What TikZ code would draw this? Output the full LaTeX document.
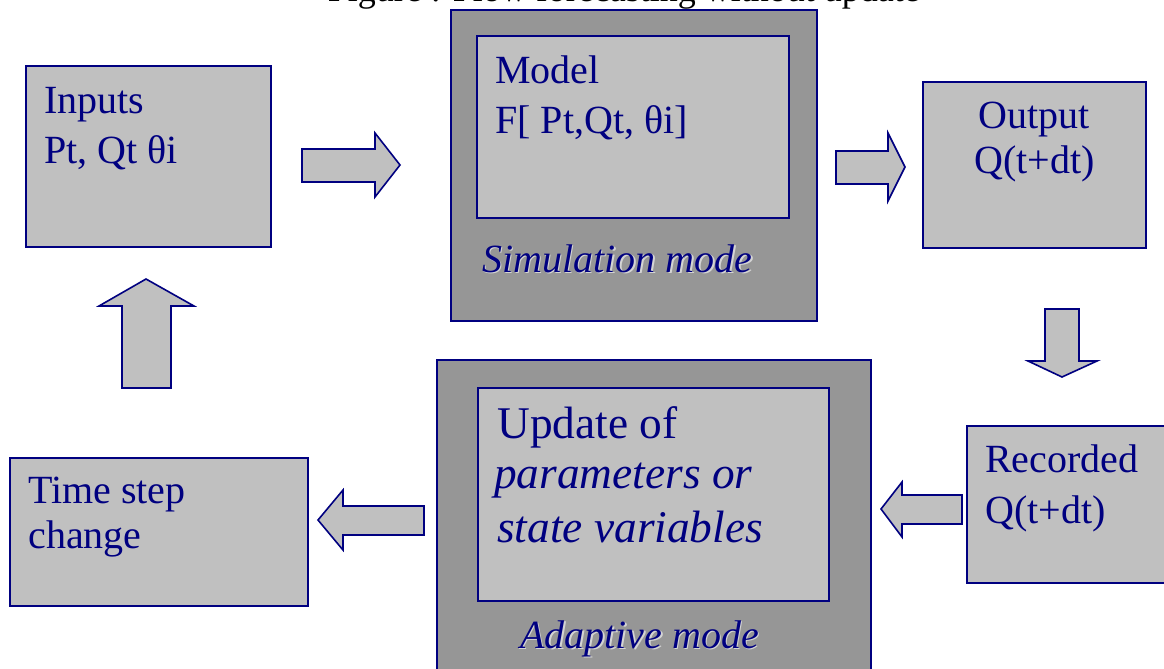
\documentclass[tikz,border=0pt]{standalone}
\usepackage{fontspec}
\setmainfont{Liberation Serif}
\usetikzlibrary{fit}
\definecolor{navyc}{HTML}{000080}
\definecolor{lightbox}{HTML}{C0C0C0}
\definecolor{darkbox}{HTML}{969696}
\definecolor{shadowc}{HTML}{D4D4D4}
\tikzset{
  box/.style={draw=navyc, fill=lightbox, line width=1.2pt, inner sep=0pt},
  outerbox/.style={draw=navyc, fill=darkbox, line width=1.2pt, inner sep=0pt},
  barrow/.style={draw=navyc, fill=lightbox, line width=1.2pt, line join=miter},
  txt/.style={anchor=base west, inner sep=0pt, text=navyc, font=\fontsize{30}{36}\selectfont},
  bigtxt/.style={anchor=base west, inner sep=0pt, text=navyc, font=\fontsize{34}{40}\selectfont},
  bigital/.style={anchor=base west, inner sep=0pt, text=navyc, font=\fontsize{34}{40}\selectfont\itshape},
  ctxt/.style={anchor=base, inner sep=0pt, text=navyc, font=\fontsize{30}{36}\selectfont},
  modetxt/.style={anchor=base west, inner sep=0pt, text=navyc, font=\fontsize{30}{36}\selectfont\itshape},
  modeshadow/.style={anchor=base west, inner sep=0pt, text=shadowc, font=\fontsize{30}{36}\selectfont\itshape},
  titletxt/.style={anchor=base east, inner sep=0pt, text=black, font=\fontsize{27}{32}\selectfont}
}
\begin{document}
\begin{tikzpicture}[x=0.75pt, y=-0.75pt]
\useasboundingbox (0,0) rectangle (1164,668);
\fill[white] (0,0) rectangle (1164,668);

% title (cut off at the top, as in the reference)
\node[titletxt] (title) at (920,1) {Figure : Flow forecasting without update};

% boxes
\node[box, fit={(26,66) (271,247)}] (inputs) {};
\node[outerbox, fit={(451,10) (817,321)}] (simouter) {};
\node[box, fit={(477,36) (789,218)}] (model) {};
\node[box, fit={(923,82) (1146,248)}] (output) {};
\node[box, fit={(967,426) (1172,583)}] (recorded) {};
\node[outerbox, fit={(437,360) (871,700)}] (adaptouter) {};
\node[box, fit={(478,388) (829,601)}] (update) {};
\node[box, fit={(10,458) (308,606)}] (timestep) {};

% texts
\node[txt] (inputsA) at (44,113) {Inputs};
\node[txt] (inputsB) at (44,163) {Pt, Qt θi};
\node[txt] (modelA) at (495,83) {Model};
\node[txt] (modelB) at (495,133) {F[ Pt,Qt, θi]};
\node[modeshadow] (simshadow) at (483.5,273.5) {Simulation mode};
\node[modetxt] (simlabel) at (482,272) {Simulation mode};
\node[ctxt] (outputA) at (1034.5,128) {Output};
\node[ctxt] (outputB) at (1034.5,173) {Q(t+dt)};
\node[txt] (recA) at (985,472) {Recorded};
\node[txt] (recB) at (985,523) {Q(t+dt)};
\node[bigtxt] (updA) at (497,438) {Update of};
\node[bigital] (updB) at (494,488) {parameters or};
\node[bigital] (updC) at (497,542) {state variables};
\node[modeshadow] (adashadow) at (521.5,649.5) {Adaptive mode};
\node[modetxt] (adalabel) at (520,648) {Adaptive mode};
\node[txt] (timeA) at (28,503) {Time step};
\node[txt] (timeB) at (28,548) {change};

% block arrows
\draw[barrow] (302,149) -- (375,149) -- (375,133) -- (400,165) -- (375,197) -- (375,182) -- (302,182) -- cycle;
\draw[barrow] (836,151) -- (888,151) -- (888,133) -- (905,167) -- (888,201) -- (888,184) -- (836,184) -- cycle;
\draw[barrow] (1045,309) -- (1079,309) -- (1079,361) -- (1097,361) -- (1062,377) -- (1028,361) -- (1045,361) -- cycle;
\draw[barrow] (962,495) -- (902,495) -- (902,482) -- (881,509) -- (902,537) -- (902,524) -- (962,524) -- cycle;
\draw[barrow] (424,506) -- (343,506) -- (343,490) -- (318,520) -- (343,550) -- (343,535) -- (424,535) -- cycle;
\draw[barrow] (122,388) -- (122,306) -- (99,306) -- (146,279) -- (194,306) -- (171,306) -- (171,388) -- cycle;
\end{tikzpicture}
\end{document}
